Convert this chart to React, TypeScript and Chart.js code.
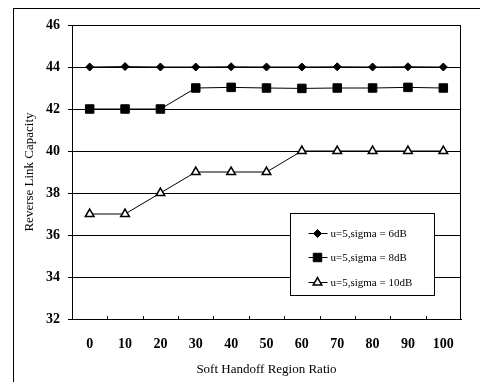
import React, { useEffect, useRef } from 'react';
import { Chart, registerables } from 'chart.js';
import { drawPoint } from 'chart.js/helpers';

Chart.register(...registerables);

const categories = ['0', '10', '20', '30', '40', '50', '60', '70', '80', '90', '100'];
const seriesLabels = ['u=5,sigma = 6dB', 'u=5,sigma = 8dB', 'u=5,sigma = 10dB'];
const sigma6 = [44, 44.02, 44, 44, 44.01, 44, 44, 44.01, 44, 44.01, 44];
const sigma8 = [42, 42, 42, 43, 43.03, 43, 42.98, 43, 43, 43.03, 43];
const sigma10 = [37, 37, 38, 39, 39, 39, 40, 40, 40, 40, 40];
const yMin = 32;
const yMax = 46;
const yStep = 2;
const xTitle = 'Soft Handoff Region Ratio';
const yTitle = 'Reverse Link Capacity';

const FONT = "'Liberation Serif', 'Times New Roman', serif";

const framePlugin = {
  id: 'frameAndLegend',
  afterDraw(chart: any) {
    const { ctx, chartArea: ca } = chart;
    const xs = chart.scales.x;
    ctx.save();
    ctx.strokeStyle = '#000';
    ctx.lineWidth = 1;
    // plot border
    ctx.strokeRect(Math.round(ca.left) + 0.5, Math.round(ca.top) + 0.5, Math.round(ca.right - ca.left) - 1, Math.round(ca.bottom - ca.top));
    // inner x ticks at category boundaries
    for (let i = 0; i < categories.length - 1; i++) {
      const x = Math.round((xs.getPixelForValue(i) + xs.getPixelForValue(i + 1)) / 2) + 0.5;
      ctx.beginPath();
      ctx.moveTo(x, ca.bottom);
      ctx.lineTo(x, ca.bottom - 3);
      ctx.stroke();
    }
    // legend box
    const bx = Math.round(ca.right - 171) + 0.5;
    const by = Math.round(ca.top + 188) + 0.5;
    const bw = 144;
    const bh = 82;
    ctx.fillStyle = '#fff';
    ctx.fillRect(bx, by, bw, bh);
    ctx.strokeRect(bx, by, bw, bh);
    ctx.font = `11px ${FONT}`;
    ctx.textBaseline = 'middle';
    ctx.textAlign = 'left';
    chart.data.datasets.forEach((ds: any, i: number) => {
      const y = Math.round(by + 19 + i * 24.5) + 0.5;
      ctx.strokeStyle = '#000';
      ctx.lineWidth = 1;
      ctx.beginPath();
      ctx.moveTo(bx + 18, y);
      ctx.lineTo(bx + 37, y);
      ctx.stroke();
      ctx.fillStyle = ds.pointBackgroundColor;
      ctx.strokeStyle = ds.pointBorderColor;
      ctx.lineWidth = ds.pointBorderWidth;
      drawPoint(ctx, { pointStyle: ds.pointStyle, rotation: 0, radius: ds.pointRadius, borderWidth: ds.pointBorderWidth }, bx + 27, y);
      ctx.fillStyle = '#000';
      ctx.fillText(ds.label, bx + 40, y + 1);
    });
    ctx.restore();
  },
};

export default function App() {
  const ref = useRef<HTMLCanvasElement | null>(null);
  useEffect(() => {
    if (!ref.current) return;
    const chart = new Chart(ref.current, {
      type: 'line',
      data: {
        labels: categories,
        datasets: [
          {
            label: seriesLabels[0],
            data: sigma6,
            borderColor: '#000',
            borderWidth: 1,
            pointStyle: 'rectRot',
            pointRadius: 4,
            pointBackgroundColor: '#000',
            pointBorderColor: '#000',
            pointBorderWidth: 1,
          },
          {
            label: seriesLabels[1],
            data: sigma8,
            borderColor: '#000',
            borderWidth: 1,
            pointStyle: 'rect',
            pointRadius: 6,
            pointBackgroundColor: '#000',
            pointBorderColor: '#000',
            pointBorderWidth: 1,
          },
          {
            label: seriesLabels[2],
            data: sigma10,
            borderColor: '#000',
            borderWidth: 1,
            pointStyle: 'triangle',
            pointRadius: 5,
            pointBackgroundColor: '#fff',
            pointBorderColor: '#000',
            pointBorderWidth: 1.5,
          },
        ],
      },
      options: {
        animation: false,
        responsive: false,
        devicePixelRatio: 1,
        layout: { padding: { top: 25, right: 19, left: 0, bottom: 0 } },
        plugins: { legend: { display: false }, tooltip: { enabled: false } },
        scales: {
          x: {
            type: 'category',
            offset: true,
            grid: { display: false, drawTicks: false },
            border: { display: true, color: '#000', width: 1 },
            ticks: {
              color: '#000',
              font: { family: FONT, size: 14, weight: 'bold' },
              padding: 17,
              maxRotation: 0,
              autoSkip: false,
            },
            title: {
              display: true,
              text: xTitle,
              color: '#000',
              font: { family: FONT, size: 13 },
              padding: { top: 0, bottom: 5 },
            },
            afterFit: (s: any) => {
              s.height = 63;
            },
          },
          y: {
            min: yMin,
            max: yMax,
            grid: { color: '#000', lineWidth: 1, drawTicks: true, tickLength: 4 },
            border: { display: true, color: '#000', width: 1 },
            ticks: {
              stepSize: yStep,
              color: '#000',
              font: { family: FONT, size: 14, weight: 'bold' },
              padding: 8,
            },
            title: {
              display: true,
              text: yTitle,
              color: '#000',
              font: { family: FONT, size: 13 },
              padding: { top: 22, bottom: 0 },
            },
            afterFit: (s: any) => {
              s.width = 72;
            },
          },
        },
      },
      plugins: [framePlugin],
    });
    return () => chart.destroy();
  }, []);

  return (
    <div style={{ position: 'fixed', left: 0, top: 0, width: 480, height: 382, background: '#fff', overflow: 'hidden' }}>
      <div
        style={{
          position: 'absolute',
          left: 13,
          top: 8,
          width: 467,
          height: 374,
          borderTop: '1px solid #000',
          borderLeft: '1px solid #000',
          boxSizing: 'border-box',
        }}
      />
      <canvas ref={ref} width={480} height={382} style={{ position: 'absolute', left: 0, top: 0, display: 'block' }} />
    </div>
  );
}
